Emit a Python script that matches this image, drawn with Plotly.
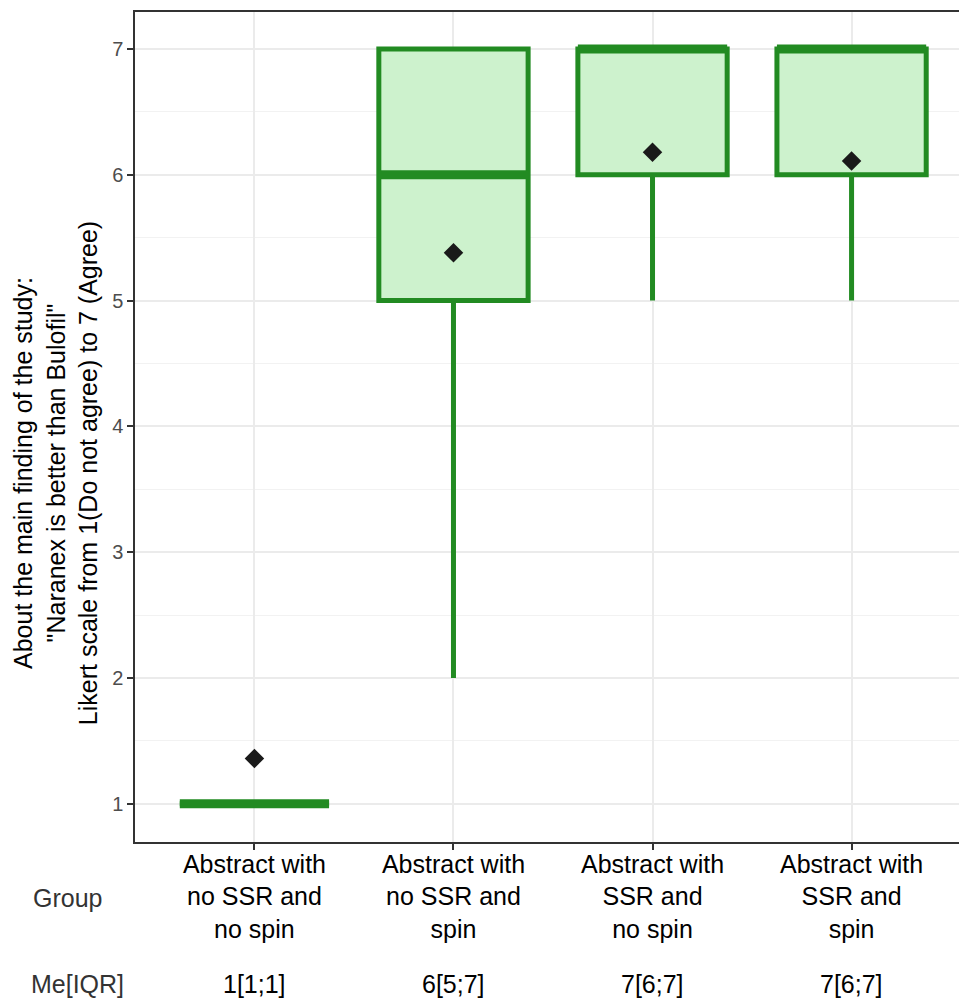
import plotly.graph_objects as go

groups = ["Abstract with<br>no SSR and<br>no spin",
          "Abstract with<br>no SSR and<br>spin",
          "Abstract with<br>SSR and<br>no spin",
          "Abstract with<br>SSR and<br>spin"]
positions = [1, 2, 3, 4]
lower_whisker = [1, 2, 5, 5]
q1 = [1, 5, 6, 6]
median = [1, 6, 7, 7]
q3 = [1, 7, 7, 7]
upper_whisker = [1, 7, 7, 7]
means = [1.36, 5.38, 6.18, 6.11]
me_iqr = ["1[1;1]", "6[5;7]", "7[6;7]", "7[6;7]"]
y_ticks = [1, 2, 3, 4, 5, 6, 7]

GREEN = "#228B22"
FILL = "rgba(205,242,205,1)"
FONT = "Liberation Sans, Arial, sans-serif"
BOX_W = 0.75
PLOT_W = 838  # plot area width; its right part falls outside the 959 px window, as in the reference

fig = go.Figure()
fig.add_trace(go.Box(
    x=positions, q1=q1, median=median, q3=q3,
    lowerfence=lower_whisker, upperfence=upper_whisker,
    width=BOX_W, fillcolor=FILL, line=dict(color=GREEN, width=5),
    whiskerwidth=0, boxpoints=False, showlegend=False, hoverinfo="skip"))

# thick median bars
mx, my = [], []
for p, m in zip(positions, median):
    mx += [p - BOX_W / 2, p + BOX_W / 2, None]
    my += [m, m, None]
fig.add_trace(go.Scatter(x=mx, y=my, mode="lines",
                         line=dict(color=GREEN, width=9),
                         showlegend=False, hoverinfo="skip"))

fig.add_trace(go.Scatter(x=positions, y=means, mode="markers",
                         marker=dict(symbol="diamond", size=15, color="#1a1a1a"),
                         showlegend=False, hoverinfo="skip"))

fig.update_layout(
    width=135 + PLOT_W, height=998,
    margin=dict(l=135, r=0, t=12, b=156),
    paper_bgcolor="white", plot_bgcolor="white",
    font=dict(family=FONT, size=25, color="#000000"),
    showlegend=False,
)
fig.update_xaxes(
    range=[0.4, 4.6], tickmode="array", tickvals=positions, ticktext=groups,
    tickfont=dict(size=25, color="#000000"), ticklabelstandoff=-7,
    ticks="outside", ticklen=6, tickwidth=1.5, tickcolor="#333333",
    showgrid=True, gridcolor="#ebebeb", gridwidth=2,
    showline=True, linecolor="#333333", linewidth=1.5, mirror=True,
    zeroline=False,
)
fig.update_yaxes(
    range=[0.696, 7.294], tickmode="array", tickvals=y_ticks,
    tickfont=dict(size=20, color="#4d4d4d"),
    ticks="outside", ticklen=6, tickwidth=1.5, tickcolor="#333333",
    showgrid=True, gridcolor="#ebebeb", gridwidth=2,
    minor=dict(dtick=0.5, tick0=0.5, showgrid=True, gridcolor="#f2f2f2", gridwidth=1, ticks=""),
    showline=True, linecolor="#333333", linewidth=1.5, mirror=True,
    zeroline=False,
)

fig.add_annotation(
    text='About the main finding of the study:<br>"Naranex is better than Bulofil"<br>Likert scale from 1(Do not agree) to 7 (Agree)',
    xref="paper", yref="paper", x=(56 - 135) / PLOT_W, y=(842 - 473) / 830,
    xanchor="center", yanchor="middle", textangle=-90, showarrow=False,
    font=dict(size=25, color="#000000"))

fig.add_annotation(text="Group", xref="paper", yref="paper",
                   x=(67 - 135) / PLOT_W, y=(842 - 898) / 830,
                   xanchor="center", yanchor="middle", showarrow=False,
                   font=dict(size=25, color="#333333"))
fig.add_annotation(text="Me[IQR]", xref="paper", yref="paper",
                   x=(77 - 135) / PLOT_W, y=(842 - 984) / 830,
                   xanchor="center", yanchor="middle", showarrow=False,
                   font=dict(size=25, color="#333333"))
for p, t in zip(positions, me_iqr):
    fig.add_annotation(text=t, xref="x", yref="paper", x=p, y=(842 - 984) / 830,
                       xanchor="center", yanchor="middle", showarrow=False,
                       font=dict(size=25, color="#000000"))

fig.write_html("out.html", config={"displayModeBar": False},
               post_script="document.body.style.margin='0';document.body.style.overflow='hidden';")
